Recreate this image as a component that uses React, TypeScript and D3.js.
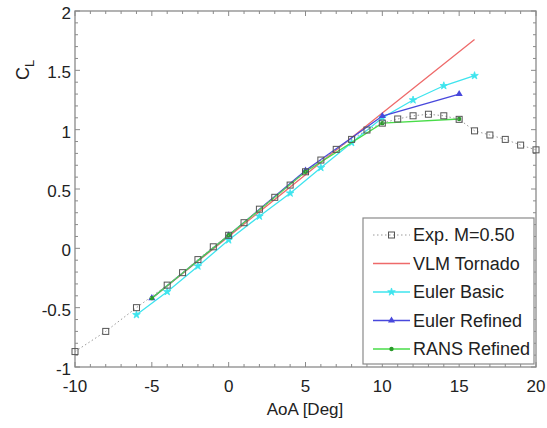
import React from "react";
import * as d3 from "d3";

const expAoA = [-10, -8, -6, -4, -3, -2, -1, 0, 1, 2, 3, 4, 5, 6, 7, 8, 9, 10, 11, 12, 13, 14, 15, 16, 17, 18, 19, 20];
const expCL = [-0.87, -0.70, -0.50, -0.31, -0.205, -0.095, 0.013, 0.11, 0.216, 0.33, 0.43, 0.533, 0.645, 0.744, 0.834, 0.918, 0.997, 1.055, 1.09, 1.117, 1.13, 1.117, 1.087, 0.99, 0.955, 0.918, 0.87, 0.83];

const vlmAoA = [-5, 0, 5, 10, 16];
const vlmCL = [-0.42, 0.10, 0.62, 1.14, 1.76];

const eulerBasicAoA = [-6, -4, -2, 0, 2, 4, 6, 8, 10, 12, 14, 16];
const eulerBasicCL = [-0.56, -0.365, -0.15, 0.07, 0.27, 0.465, 0.68, 0.89, 1.1, 1.25, 1.37, 1.455];

const eulerRefAoA = [-5, 0, 5, 10, 15];
const eulerRefCL = [-0.42, 0.11, 0.655, 1.115, 1.30];

const ransAoA = [-5, 0, 5, 10, 15];
const ransCL = [-0.42, 0.11, 0.645, 1.055, 1.09];

const xTicks = [-10, -5, 0, 5, 10, 15, 20];
const yTicks = [-1, -0.5, 0, 0.5, 1, 1.5, 2];

const legendLabels = ["Exp. M=0.50", "VLM Tornado", "Euler Basic", "Euler Refined", "RANS Refined"];

const W = 547, H = 428;
const L = 75, R = 536, T = 11, B = 367;
const FONT = "'Liberation Sans', Arial, Helvetica, sans-serif";

const RED = "#ee6a6a";
const CYAN = "#3ee4ee";
const BLUE = "#4848dc";
const GREEN = "#48dc48";
const AX = "#8a8a8a";

export default function App() {
  const x = d3.scaleLinear().domain([-10, 20]).range([L, R]);
  const y = d3.scaleLinear().domain([-1, 2]).range([B, T]);
  const line = d3.line<[number, number]>().x(d => x(d[0])).y(d => y(d[1]));
  const pts = (a: number[], c: number[]) => a.map((v, i) => [v, c[i]] as [number, number]);

  const xMinor = d3.range(-10, 20.001, 1);
  const yMinor = d3.range(-1, 2.0001, 0.1);

  const tri = d3.symbol().type(d3.symbolTriangle).size(22)();
  const star = d3.symbol().type(d3.symbolStar).size(18)();

  const legX = 363, legY = 218, legW = 171, legH = 146;
  const rowY = (i: number) => legY + 17 + i * 28.5;

  return (
    <svg width={W} height={H} style={{ position: "absolute", left: 0, top: 0, background: "#fff" }}>
      <rect x={0} y={0} width={W} height={H} fill="#fff" />
      {/* ticks */}
      <g stroke={AX} strokeWidth={1}>
        {xMinor.map(v => {
          const len = Math.abs(v % 5) < 1e-6 ? 5 : 3;
          return (
            <g key={"xt" + v}>
              <line x1={x(v)} x2={x(v)} y1={B} y2={B - len} />
              <line x1={x(v)} x2={x(v)} y1={T} y2={T + len} />
            </g>
          );
        })}
        {yMinor.map((v, i) => {
          const len = i % 5 === 0 ? 5 : 3;
          return (
            <g key={"yt" + i}>
              <line x1={L} x2={L + len} y1={y(v)} y2={y(v)} />
              <line x1={R} x2={R - len} y1={y(v)} y2={y(v)} />
            </g>
          );
        })}
      </g>
      <rect x={L} y={T} width={R - L} height={B - T} fill="none" stroke={AX} strokeWidth={1.3} />

      {/* tick labels */}
      <g fontFamily={FONT} fontSize={17} fill="#222">
        {xTicks.map(v => (
          <text key={"xl" + v} x={x(v)} y={B + 25} textAnchor="middle">{String(v)}</text>
        ))}
        {yTicks.map(v => (
          <text key={"yl" + v} x={L - 4} y={y(v) + 8} textAnchor="end">{String(v)}</text>
        ))}
      </g>
      <text x={305} y={415} textAnchor="middle" fontFamily={FONT} fontSize={17} fill="#222">AoA [Deg]</text>
      <text transform="translate(29,80) rotate(-90)" fontFamily={FONT} fontSize={18} fill="#222">
        C<tspan fontSize={13} dy={5}>L</tspan>
      </text>

      {/* series */}
      <path d={line(pts(vlmAoA, vlmCL)) || ""} fill="none" stroke={RED} strokeWidth={1.3} />
      <path d={line(pts(eulerBasicAoA, eulerBasicCL)) || ""} fill="none" stroke={CYAN} strokeWidth={1.3} />
      {eulerBasicAoA.map((a, i) => (
        <path key={"eb" + i} d={star || ""} transform={`translate(${x(a)},${y(eulerBasicCL[i])})`} fill={CYAN} stroke={CYAN} strokeWidth={0.8} />
      ))}
      <path d={line(pts(eulerRefAoA, eulerRefCL)) || ""} fill="none" stroke={BLUE} strokeWidth={1.3} />
      {eulerRefAoA.map((a, i) => (
        <path key={"er" + i} d={tri || ""} transform={`translate(${x(a)},${y(eulerRefCL[i])})`} fill={BLUE} />
      ))}
      <path d={line(pts(ransAoA, ransCL)) || ""} fill="none" stroke={GREEN} strokeWidth={1.3} />
      {ransAoA.map((a, i) => (
        <circle key={"rn" + i} cx={x(a)} cy={y(ransCL[i])} r={2.2} fill="#2a9a2a" />
      ))}
      <path d={line(pts(expAoA, expCL)) || ""} fill="none" stroke="#9a9a9a" strokeWidth={1} strokeDasharray="1.5,2.5" />
      {expAoA.map((a, i) => (
        <rect key={"ex" + i} x={x(a) - 3} y={y(expCL[i]) - 3} width={6} height={6} fill="none" stroke="#555" strokeWidth={1} />
      ))}

      {/* legend */}
      <rect x={legX} y={legY} width={legW} height={legH} fill="#fff" stroke={AX} strokeWidth={1.2} />
      <g fontFamily={FONT} fontSize={18} fill="#222">
        {legendLabels.map((lab, i) => (
          <text key={"lg" + i} x={legX + 50} y={rowY(i) + 6}>{lab}</text>
        ))}
      </g>
      <line x1={legX + 10} x2={legX + 47} y1={rowY(0)} y2={rowY(0)} stroke="#9a9a9a" strokeDasharray="1.5,2.5" />
      <rect x={legX + 28.5 - 3} y={rowY(0) - 3} width={6} height={6} fill="none" stroke="#555" />
      <line x1={legX + 10} x2={legX + 47} y1={rowY(1)} y2={rowY(1)} stroke={RED} strokeWidth={1.3} />
      <line x1={legX + 10} x2={legX + 47} y1={rowY(2)} y2={rowY(2)} stroke={CYAN} strokeWidth={1.3} />
      <path d={star || ""} transform={`translate(${legX + 28.5},${rowY(2)})`} fill={CYAN} stroke={CYAN} strokeWidth={0.8} />
      <line x1={legX + 10} x2={legX + 47} y1={rowY(3)} y2={rowY(3)} stroke={BLUE} strokeWidth={1.3} />
      <path d={tri || ""} transform={`translate(${legX + 28.5},${rowY(3)})`} fill={BLUE} />
      <line x1={legX + 10} x2={legX + 47} y1={rowY(4)} y2={rowY(4)} stroke={GREEN} strokeWidth={1.3} />
      <circle cx={legX + 28.5} cy={rowY(4)} r={2.2} fill="#2a9a2a" />
    </svg>
  );
}
